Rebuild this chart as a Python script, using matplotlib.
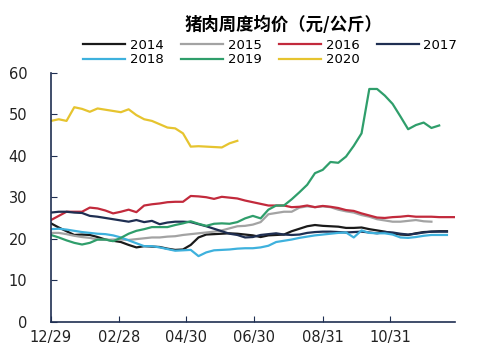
import matplotlib
matplotlib.use("Agg")
import matplotlib.pyplot as plt
import numpy as np

plt.rcParams['font.family'] = ['DejaVu Sans', 'Noto Sans CJK SC']

title = "猪肉周度均价（元/公斤）"
tick_labels = ["12/29", "02/28", "04/30", "06/30", "08/31", "10/31"]
tick_days = [0, 61, 122, 183, 245, 306]

y2014 = [23.7, 22.7, 21.8, 20.9, 21.0, 20.9, 20.4, 19.8, 19.5, 19.2, 18.5, 17.9, 18.2, 18.1,
         18.0, 17.6, 17.3, 17.4, 18.5, 20.3, 21.0, 21.1, 21.2, 21.3, 21.2, 21.0, 20.8, 20.4,
         20.8, 20.9, 21.0, 21.8, 22.4, 23.0, 23.3, 23.1, 23.0, 22.9, 22.6, 22.6, 22.7, 22.3,
         22.0, 21.7, 21.3, 21.0, 20.9, 21.3, 21.6, 21.7, 21.8, 21.8]
y2015 = [21.4, 21.4, 21.1, 20.7, 20.4, 20.2, 19.8, 19.7, 19.8, 19.8, 19.7, 19.9, 20.1, 20.3,
         20.3, 20.5, 20.6, 20.9, 21.1, 21.3, 21.5, 21.7, 22.0, 22.5, 23.0, 23.1, 23.4, 24.0,
         25.9, 26.2, 26.5, 26.5, 27.5, 27.8, 27.6, 27.8, 27.6, 27.0, 26.6, 26.3, 25.7, 25.3,
         24.7, 24.4, 24.1, 24.1, 24.3, 24.5, 24.2, 24.1]
y2016 = [24.5, 25.5, 26.5, 26.5, 26.5, 27.5, 27.3, 26.8, 26.1, 26.5, 27.0, 26.4, 28.0, 28.3,
         28.5, 28.8, 28.9, 28.9, 30.3, 30.2, 30.0, 29.6, 30.1, 29.9, 29.7, 29.2, 28.8, 28.4,
         28.0, 28.0, 28.0, 27.6, 27.7, 28.0, 27.6, 27.9, 27.7, 27.4, 26.9, 26.7, 26.1, 25.6,
         25.1, 25.0, 25.2, 25.3, 25.5, 25.3, 25.3, 25.3, 25.2, 25.2, 25.2]
y2017 = [26.3, 26.5, 26.5, 26.3, 26.2, 25.5, 25.3, 25.0, 24.7, 24.4, 24.1, 24.5, 24.0, 24.3,
         23.5, 23.9, 24.1, 24.1, 24.0, 23.5, 23.0, 22.4, 21.8, 21.2, 20.9, 20.3, 20.4, 20.9,
         21.1, 21.3, 21.0, 20.9, 21.0, 21.4, 21.6, 21.7, 21.7, 21.6, 21.5, 21.6, 21.7, 21.5,
         21.3, 21.6, 21.5, 21.2, 21.0, 21.2, 21.5, 21.7, 21.7, 21.7]
y2018 = [22.3, 22.4, 22.2, 21.9, 21.6, 21.4, 21.2, 21.1, 20.8, 20.3, 19.6, 18.9, 18.2, 18.2,
         17.9, 17.5, 17.1, 17.2, 17.3, 15.8, 16.7, 17.2, 17.3, 17.4, 17.6, 17.7, 17.7, 17.9,
         18.3, 19.2, 19.5, 19.8, 20.2, 20.5, 20.8, 21.0, 21.2, 21.4, 21.5, 20.3, 22.0, 21.4,
         21.3, 21.3, 21.0, 20.3, 20.2, 20.4, 20.7, 20.9, 20.9, 20.9]
y2019 = [20.9, 20.3, 19.6, 19.0, 18.6, 19.0, 19.8, 19.8, 19.4, 20.2, 21.2, 21.9, 22.3, 22.8,
         22.8, 22.8, 23.3, 23.7, 24.2, 23.6, 23.1, 23.6, 23.7, 23.6, 24.0, 24.9, 25.5, 24.9,
         27.0, 28.0, 28.0, 29.5, 31.2, 33.0, 35.8, 36.6, 38.5, 38.3, 39.8, 42.4, 45.4, 56.1,
         56.1, 54.5, 52.5, 49.5, 46.4, 47.4, 48.0, 46.7, 47.3]
y2020 = [48.4, 48.8, 48.4, 51.7, 51.3, 50.6, 51.4, 51.1, 50.8, 50.5, 51.2, 49.8, 48.8, 48.4,
         47.6, 46.8, 46.6, 45.4, 42.2, 42.3, 42.2, 42.1, 42.0, 43.0, 43.6]

series = [
    ("2014", y2014, "#1a1a1a"),
    ("2015", y2015, "#a3a3a3"),
    ("2016", y2016, "#c22a3c"),
    ("2017", y2017, "#1f2f52"),
    ("2018", y2018, "#3eb1dd"),
    ("2019", y2019, "#2f9e6b"),
    ("2020", y2020, "#e6c42f"),
]

fig = plt.figure(figsize=(4.87, 3.5), dpi=100)
ax = fig.add_axes([0.1047, 0.081, 0.829, 0.711])

handles = {}
for name, vals, col in series:
    x = np.arange(len(vals))
    h, = ax.plot(x, vals, color=col, lw=1.6, label=name)
    handles[name] = h

ax.set_xlim(0, 52)
ax.set_ylim(0, 60)
ax.set_yticks([0, 10, 20, 30, 40, 50, 60])
ax.set_xticks([d / 7 for d in tick_days])
ax.set_xticklabels(tick_labels)
for s in ["top", "right"]:
    ax.spines[s].set_visible(False)
for s in ["left", "bottom"]:
    ax.spines[s].set_color("#1f2f52")
    ax.spines[s].set_linewidth(1.2)
ax.tick_params(axis="both", direction="in", length=4, color="#1f2f52", labelsize=10.5,
               labelcolor="#222222")
ax.tick_params(axis="y", pad=17)
ax.tick_params(axis="x", pad=6)

fig.text(0.582, 0.928, title, ha="center", va="center", fontsize=12.5, fontweight="bold",
         family=["Noto Sans CJK SC", "DejaVu Sans"])

order = ["2014", "2018", "2015", "2019", "2016", "2020", "2017"]
fig.legend([handles[k] for k in order], order, ncol=4, loc="center",
           bbox_to_anchor=(0.555, 0.85), frameon=False, fontsize=9.5,
           handlelength=3.2, handletextpad=0.35, columnspacing=1.3,
           labelspacing=0.15, borderpad=0.0)

fig.savefig("out.png", dpi=100)
